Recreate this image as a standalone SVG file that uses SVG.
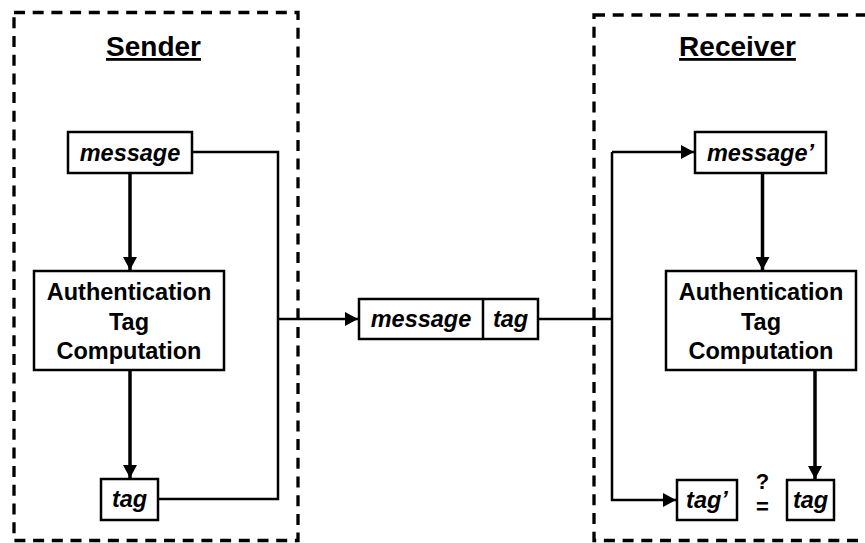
<svg xmlns="http://www.w3.org/2000/svg" width="865" height="543" viewBox="0 0 865 543">
  <style>
    .zone { fill: none; stroke: #000; stroke-width: 3.3; stroke-dasharray: 11 7.7; }
    .box { fill: #fff; stroke: #000; stroke-width: 2.5; }
    .title { font-family: "Liberation Sans", Arial, sans-serif; font-weight: bold; font-size: 28px; text-anchor: middle; text-decoration: underline; }
    .lbl { font-family: "Liberation Sans", Arial, sans-serif; font-weight: bold; font-style: italic; font-size: 23.5px; text-anchor: middle; }
    .proc { font-family: "Liberation Sans", Arial, sans-serif; font-weight: bold; font-size: 23.5px; text-anchor: middle; }
    .cmp { font-family: "Liberation Sans", Arial, sans-serif; font-weight: bold; font-size: 22px; text-anchor: middle; }
    .flow { fill: none; stroke: #000; stroke-width: 3.5; }
    .link { fill: none; stroke: #000; stroke-width: 2.5; }
  </style>
  <defs>
    <marker id="arrow" markerUnits="userSpaceOnUse" markerWidth="13" markerHeight="14" viewBox="0 0 13 14" refX="13" refY="7" orient="auto">
      <path d="M0,0 L13,7 L0,14 Z" fill="#000"/>
    </marker>
  </defs>
  <rect x="0" y="0" width="865" height="543" fill="#fff"/>

  <!-- dashed party boundaries -->
  <g id="sender-zone">
    <rect class="zone" x="14" y="12.5" width="284" height="528"/>
    <text class="title" x="153.5" y="56">Sender</text>
  </g>
  <g id="receiver-zone">
    <rect class="zone" x="594" y="15" width="290" height="525.5"/>
    <text class="title" x="737.5" y="56">Receiver</text>
  </g>

  <!-- connectors -->
  <g id="connectors">
    <path class="flow" d="M130,173 V270" marker-end="url(#arrow)"/>
    <path class="flow" d="M130,370 V478" marker-end="url(#arrow)"/>
    <path class="link" d="M192,152 H278 V499 H158"/>
    <path class="link" d="M278,319 H358" marker-end="url(#arrow)"/>
    <path class="link" d="M538,319 H612"/>
    <path class="link" d="M612,152 H694" marker-end="url(#arrow)"/>
    <path class="link" d="M612,152 V500 H676" marker-end="url(#arrow)"/>
    <path class="flow" d="M762.5,173 V270" marker-end="url(#arrow)"/>
    <path class="flow" d="M815,370 V479" marker-end="url(#arrow)"/>
  </g>

  <!-- sender nodes -->
  <g id="s-message">
    <rect class="box" x="68" y="132" width="124" height="41"/>
    <text class="lbl" x="130" y="161">message</text>
  </g>
  <g id="s-auth">
    <rect class="box" x="34" y="271" width="190" height="99"/>
    <text class="proc" x="129" y="300">Authentication</text>
    <text class="proc" x="129" y="330">Tag</text>
    <text class="proc" x="129" y="359">Computation</text>
  </g>
  <g id="s-tag">
    <rect class="box" x="101" y="479" width="57" height="41"/>
    <text class="lbl" x="129.5" y="507">tag</text>
  </g>

  <!-- transmitted frame -->
  <g id="frame">
    <rect class="box" x="359" y="299" width="179" height="40"/>
    <line x1="483" y1="299" x2="483" y2="339" stroke="#000" stroke-width="2.5"/>
    <text class="lbl" x="421" y="327">message</text>
    <text class="lbl" x="510.5" y="327">tag</text>
  </g>

  <!-- receiver nodes -->
  <g id="r-message">
    <rect class="box" x="695" y="132" width="131" height="41"/>
    <text class="lbl" x="760.5" y="161">message’</text>
  </g>
  <g id="r-auth">
    <rect class="box" x="666" y="271" width="190" height="99"/>
    <text class="proc" x="761" y="300">Authentication</text>
    <text class="proc" x="761" y="330">Tag</text>
    <text class="proc" x="761" y="359">Computation</text>
  </g>
  <g id="r-tag-recv">
    <rect class="box" x="677" y="480" width="60" height="40"/>
    <text class="lbl" x="707" y="508">tag’</text>
  </g>
  <g id="r-compare">
    <text class="cmp" x="762.5" y="489">?</text>
    <text class="cmp" x="762.5" y="514">=</text>
  </g>
  <g id="r-tag-calc">
    <rect class="box" x="787" y="480" width="47" height="40"/>
    <text class="lbl" x="810.5" y="508">tag</text>
  </g>
</svg>
